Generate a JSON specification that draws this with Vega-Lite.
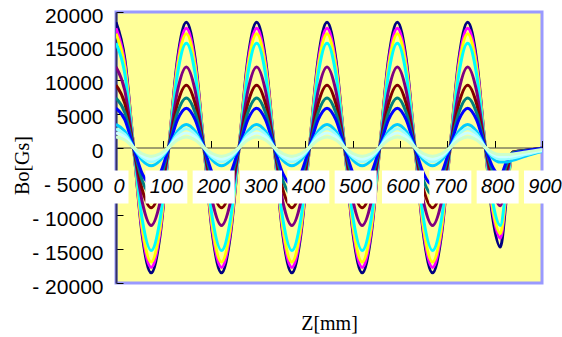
{
  "$schema": "https://vega.github.io/schema/vega-lite/v6.json",
  "autosize": {"type": "none"},
  "padding": {"left": 116, "top": 12, "right": 20, "bottom": 54},
  "width": 426,
  "height": 271,
  "background": "white",
  "config": {
    "view": {"fill": "#FFFF99", "stroke": "#9999FF", "strokeWidth": 3}
  },
  "resolve": {"axis": {"y": "independent"}},
  "datasets": {
    "curves": [
      {"z":0,"S01":18500,"S02":17600,"S03":16800,"S04":15400,"S05":11900,"S06":9200,"S07":7300,"S08":5800,"S09":3400,"S10":2750,"S11":2150,"S12":1550},
      {"z":18.6,"S01":13080,"S02":12450,"S03":11880,"S04":10890,"S05":8410,"S06":6510,"S07":5160,"S08":4100,"S09":2400,"S10":1940,"S11":1520,"S12":1100},
      {"z":37.2,"S01":0,"S02":0,"S03":0,"S04":0,"S05":0,"S06":0,"S07":0,"S08":0,"S09":0,"S10":0,"S11":0,"S12":0},
      {"z":55.7,"S01":-13080,"S02":-12520,"S03":-11950,"S04":-10750,"S05":-8130,"S06":-6290,"S07":-4950,"S08":-3890,"S09":-1910,"S10":-1480,"S11":-1200,"S12":-920},
      {"z":74.3,"S01":-18500,"S02":-17700,"S03":-16900,"S04":-15200,"S05":-11500,"S06":-8900,"S07":-7000,"S08":-5500,"S09":-2700,"S10":-2100,"S11":-1700,"S12":-1300},
      {"z":92.9,"S01":-13080,"S02":-12520,"S03":-11950,"S04":-10750,"S05":-8130,"S06":-6290,"S07":-4950,"S08":-3890,"S09":-1910,"S10":-1480,"S11":-1200,"S12":-920},
      {"z":111.5,"S01":0,"S02":0,"S03":0,"S04":0,"S05":0,"S06":0,"S07":0,"S08":0,"S09":0,"S10":0,"S11":0,"S12":0},
      {"z":130.0,"S01":13080,"S02":12450,"S03":11880,"S04":10890,"S05":8410,"S06":6510,"S07":5160,"S08":4100,"S09":2400,"S10":1940,"S11":1520,"S12":1100},
      {"z":148.6,"S01":18500,"S02":17600,"S03":16800,"S04":15400,"S05":11900,"S06":9200,"S07":7300,"S08":5800,"S09":3400,"S10":2750,"S11":2150,"S12":1550},
      {"z":167.2,"S01":13080,"S02":12450,"S03":11880,"S04":10890,"S05":8410,"S06":6510,"S07":5160,"S08":4100,"S09":2400,"S10":1940,"S11":1520,"S12":1100},
      {"z":185.8,"S01":0,"S02":0,"S03":0,"S04":0,"S05":0,"S06":0,"S07":0,"S08":0,"S09":0,"S10":0,"S11":0,"S12":0},
      {"z":204.3,"S01":-13080,"S02":-12520,"S03":-11950,"S04":-10750,"S05":-8130,"S06":-6290,"S07":-4950,"S08":-3890,"S09":-1910,"S10":-1480,"S11":-1200,"S12":-920},
      {"z":222.9,"S01":-18500,"S02":-17700,"S03":-16900,"S04":-15200,"S05":-11500,"S06":-8900,"S07":-7000,"S08":-5500,"S09":-2700,"S10":-2100,"S11":-1700,"S12":-1300},
      {"z":241.5,"S01":-13080,"S02":-12520,"S03":-11950,"S04":-10750,"S05":-8130,"S06":-6290,"S07":-4950,"S08":-3890,"S09":-1910,"S10":-1480,"S11":-1200,"S12":-920},
      {"z":260.1,"S01":0,"S02":0,"S03":0,"S04":0,"S05":0,"S06":0,"S07":0,"S08":0,"S09":0,"S10":0,"S11":0,"S12":0},
      {"z":278.6,"S01":13080,"S02":12450,"S03":11880,"S04":10890,"S05":8410,"S06":6510,"S07":5160,"S08":4100,"S09":2400,"S10":1940,"S11":1520,"S12":1100},
      {"z":297.2,"S01":18500,"S02":17600,"S03":16800,"S04":15400,"S05":11900,"S06":9200,"S07":7300,"S08":5800,"S09":3400,"S10":2750,"S11":2150,"S12":1550},
      {"z":315.8,"S01":13080,"S02":12450,"S03":11880,"S04":10890,"S05":8410,"S06":6510,"S07":5160,"S08":4100,"S09":2400,"S10":1940,"S11":1520,"S12":1100},
      {"z":334.4,"S01":0,"S02":0,"S03":0,"S04":0,"S05":0,"S06":0,"S07":0,"S08":0,"S09":0,"S10":0,"S11":0,"S12":0},
      {"z":352.9,"S01":-13080,"S02":-12520,"S03":-11950,"S04":-10750,"S05":-8130,"S06":-6290,"S07":-4950,"S08":-3890,"S09":-1910,"S10":-1480,"S11":-1200,"S12":-920},
      {"z":371.5,"S01":-18500,"S02":-17700,"S03":-16900,"S04":-15200,"S05":-11500,"S06":-8900,"S07":-7000,"S08":-5500,"S09":-2700,"S10":-2100,"S11":-1700,"S12":-1300},
      {"z":390.1,"S01":-13080,"S02":-12520,"S03":-11950,"S04":-10750,"S05":-8130,"S06":-6290,"S07":-4950,"S08":-3890,"S09":-1910,"S10":-1480,"S11":-1200,"S12":-920},
      {"z":408.7,"S01":0,"S02":0,"S03":0,"S04":0,"S05":0,"S06":0,"S07":0,"S08":0,"S09":0,"S10":0,"S11":0,"S12":0},
      {"z":427.2,"S01":13080,"S02":12450,"S03":11880,"S04":10890,"S05":8410,"S06":6510,"S07":5160,"S08":4100,"S09":2400,"S10":1940,"S11":1520,"S12":1100},
      {"z":445.8,"S01":18500,"S02":17600,"S03":16800,"S04":15400,"S05":11900,"S06":9200,"S07":7300,"S08":5800,"S09":3400,"S10":2750,"S11":2150,"S12":1550},
      {"z":464.4,"S01":13080,"S02":12450,"S03":11880,"S04":10890,"S05":8410,"S06":6510,"S07":5160,"S08":4100,"S09":2400,"S10":1940,"S11":1520,"S12":1100},
      {"z":483.0,"S01":0,"S02":0,"S03":0,"S04":0,"S05":0,"S06":0,"S07":0,"S08":0,"S09":0,"S10":0,"S11":0,"S12":0},
      {"z":501.5,"S01":-13080,"S02":-12520,"S03":-11950,"S04":-10750,"S05":-8130,"S06":-6290,"S07":-4950,"S08":-3890,"S09":-1910,"S10":-1480,"S11":-1200,"S12":-920},
      {"z":520.1,"S01":-18500,"S02":-17700,"S03":-16900,"S04":-15200,"S05":-11500,"S06":-8900,"S07":-7000,"S08":-5500,"S09":-2700,"S10":-2100,"S11":-1700,"S12":-1300},
      {"z":538.7,"S01":-13080,"S02":-12520,"S03":-11950,"S04":-10750,"S05":-8130,"S06":-6290,"S07":-4950,"S08":-3890,"S09":-1910,"S10":-1480,"S11":-1200,"S12":-920},
      {"z":557.3,"S01":0,"S02":0,"S03":0,"S04":0,"S05":0,"S06":0,"S07":0,"S08":0,"S09":0,"S10":0,"S11":0,"S12":0},
      {"z":575.8,"S01":13080,"S02":12450,"S03":11880,"S04":10890,"S05":8410,"S06":6510,"S07":5160,"S08":4100,"S09":2400,"S10":1940,"S11":1520,"S12":1100},
      {"z":594.4,"S01":18500,"S02":17600,"S03":16800,"S04":15400,"S05":11900,"S06":9200,"S07":7300,"S08":5800,"S09":3400,"S10":2750,"S11":2150,"S12":1550},
      {"z":613.0,"S01":13080,"S02":12450,"S03":11880,"S04":10890,"S05":8410,"S06":6510,"S07":5160,"S08":4100,"S09":2400,"S10":1940,"S11":1520,"S12":1100},
      {"z":631.6,"S01":0,"S02":0,"S03":0,"S04":0,"S05":0,"S06":0,"S07":0,"S08":0,"S09":0,"S10":0,"S11":0,"S12":0},
      {"z":650.1,"S01":-13080,"S02":-12520,"S03":-11950,"S04":-10750,"S05":-8130,"S06":-6290,"S07":-4950,"S08":-3890,"S09":-1910,"S10":-1480,"S11":-1200,"S12":-920},
      {"z":668.7,"S01":-18500,"S02":-17700,"S03":-16900,"S04":-15200,"S05":-11500,"S06":-8900,"S07":-7000,"S08":-5500,"S09":-2700,"S10":-2100,"S11":-1700,"S12":-1300},
      {"z":687.3,"S01":-13080,"S02":-12520,"S03":-11950,"S04":-10750,"S05":-8130,"S06":-6290,"S07":-4950,"S08":-3890,"S09":-1910,"S10":-1480,"S11":-1200,"S12":-920},
      {"z":705.9,"S01":0,"S02":0,"S03":0,"S04":0,"S05":0,"S06":0,"S07":0,"S08":0,"S09":0,"S10":0,"S11":0,"S12":0},
      {"z":724.4,"S01":13080,"S02":12450,"S03":11880,"S04":10890,"S05":8410,"S06":6510,"S07":5160,"S08":4100,"S09":2400,"S10":1940,"S11":1520,"S12":1100},
      {"z":743.0,"S01":18500,"S02":17600,"S03":16800,"S04":15400,"S05":11900,"S06":9200,"S07":7300,"S08":5800,"S09":3400,"S10":2750,"S11":2150,"S12":1550},
      {"z":761.6,"S01":13080,"S02":12450,"S03":11880,"S04":10890,"S05":8410,"S06":6510,"S07":5160,"S08":4100,"S09":2400,"S10":1940,"S11":1520,"S12":1100},
      {"z":780.2,"S01":0,"S02":0,"S03":0,"S04":0,"S05":0,"S06":0,"S07":0,"S08":0,"S09":0,"S10":0,"S11":0,"S12":0},
      {"z":796,"S01":-10400,"S02":-9500,"S03":-9000,"S04":-8100,"S05":-6100,"S06":-4600,"S07":-3600,"S08":-2900,"S09":-1600,"S10":-1250,"S11":-1000,"S12":-750},
      {"z":812,"S01":-14700,"S02":-13400,"S03":-12700,"S04":-11500,"S05":-8600,"S06":-6500,"S07":-5100,"S08":-4100,"S09":-2150,"S10":-1700,"S11":-1350,"S12":-1050},
      {"z":825,"S01":-7400,"S02":-6700,"S03":-6400,"S04":-5800,"S05":-4300,"S06":-3300,"S07":-2600,"S08":-2100,"S09":-2150,"S10":-1700,"S11":-1350,"S12":-1050},
      {"z":838,"S01":-700,"S02":-700,"S03":-700,"S04":-700,"S05":-700,"S06":-700,"S07":-750,"S08":-900,"S09":-1900,"S10":-1550,"S11":-1250,"S12":-950},
      {"z":866,"S01":-400,"S02":-400,"S03":-400,"S04":-400,"S05":-400,"S06":-400,"S07":-450,"S08":-500,"S09":-1250,"S10":-1050,"S11":-850,"S12":-650},
      {"z":900,"S01":-100,"S02":-100,"S03":-100,"S04":-100,"S05":-100,"S06":-100,"S07":-150,"S08":-150,"S09":-600,"S10":-500,"S11":-400,"S12":-300}
    ],
    "labels": [
      {"z": 0, "label": "0"},
      {"z": 100, "label": "100"},
      {"z": 200, "label": "200"},
      {"z": 300, "label": "300"},
      {"z": 400, "label": "400"},
      {"z": 500, "label": "500"},
      {"z": 600, "label": "600"},
      {"z": 700, "label": "700"},
      {"z": 800, "label": "800"},
      {"z": 900, "label": "900"}
    ]
  },
  "encoding": {
    "x": {
      "field": "z",
      "type": "quantitative",
      "scale": {"domain": [0, 900], "nice": false, "zero": false},
      "axis": {
        "orient": "bottom",
        "offset": -135.5,
        "values": [0, 100, 200, 300, 400, 500, 600, 700, 800, 900],
        "labels": false,
        "grid": false,
        "tickSize": -7,
        "tickColor": "#000000",
        "tickWidth": 1,
        "domainColor": "#404040",
        "domainWidth": 1,
        "title": "Z[mm]",
        "titleFont": "Liberation Serif",
        "titleFontSize": 20,
        "titleFontWeight": "normal",
        "titleColor": "#000000",
        "titleBaseline": "middle",
        "titleY": 176
      }
    }
  },
  "layer": [
    {
      "data": {"name": "curves"},
      "transform": [
        {"fold": ["S01","S02","S03","S04","S05","S06","S07","S08","S09","S10","S11","S12"], "as": ["series", "value"]}
      ],
      "mark": {"type": "line", "interpolate": "monotone", "strokeWidth": 3, "clip": true},
      "encoding": {
        "y": {
          "field": "value",
          "type": "quantitative",
          "scale": {"domain": [-20000, 20000], "nice": false},
          "axis": {
            "values": [-20000, -15000, -10000, -5000, 0, 5000, 10000, 15000, 20000],
            "labelExpr": "datum.value < 0 ? '- ' + format(-datum.value, 'd') : format(datum.value, 'd')",
            "labelOverlap": false,
            "labelFont": "Liberation Sans",
            "labelFontSize": 21,
            "labelColor": "#000000",
            "labelPadding": 20,
            "labelOffset": 4,
            "grid": false,
            "tickSize": -7,
            "tickColor": "#000000",
            "domainColor": "#333366",
            "domainWidth": 2,
            "title": "Bo[Gs]",
            "titleFont": "Liberation Serif",
            "titleFontSize": 20,
            "titleFontWeight": "normal",
            "titleColor": "#000000",
            "titleBaseline": "middle",
            "titleX": -94,
            "titleY": 153
          }
        },
        "color": {
          "field": "series",
          "type": "nominal",
          "scale": {
            "domain": ["S01","S02","S03","S04","S05","S06","S07","S08","S09","S10","S11","S12"],
            "range": ["#000080","#FF00FF","#FFFF00","#00FFFF","#800080","#800000","#008080","#0000FF","#00CCFF","#99FFFF","#CCFFFF","#CCFFCC"]
          },
          "legend": null
        }
      }
    },
    {
      "data": {"name": "labels"},
      "transform": [{"filter": "datum.z > 0"}],
      "mark": {"type": "rect", "width": 42, "height": 33, "fill": "#FFFFFF", "xOffset": 3},
      "encoding": {
        "y": {"datum": -5830, "type": "quantitative", "axis": null}
      }
    },
    {
      "data": {"name": "labels"},
      "transform": [{"filter": "datum.z == 0"}],
      "mark": {"type": "rect", "width": 17, "height": 33, "fill": "#FFFFFF", "xOffset": 4},
      "encoding": {
        "y": {"datum": -5830, "type": "quantitative", "axis": null}
      }
    },
    {
      "data": {"name": "labels"},
      "mark": {"type": "text", "font": "Liberation Sans", "fontSize": 20, "fontStyle": "italic", "color": "#000000", "align": "center", "baseline": "middle", "dx": 3},
      "encoding": {
        "y": {"datum": -5830, "type": "quantitative", "axis": null},
        "text": {"field": "label"}
      }
    }
  ]
}
